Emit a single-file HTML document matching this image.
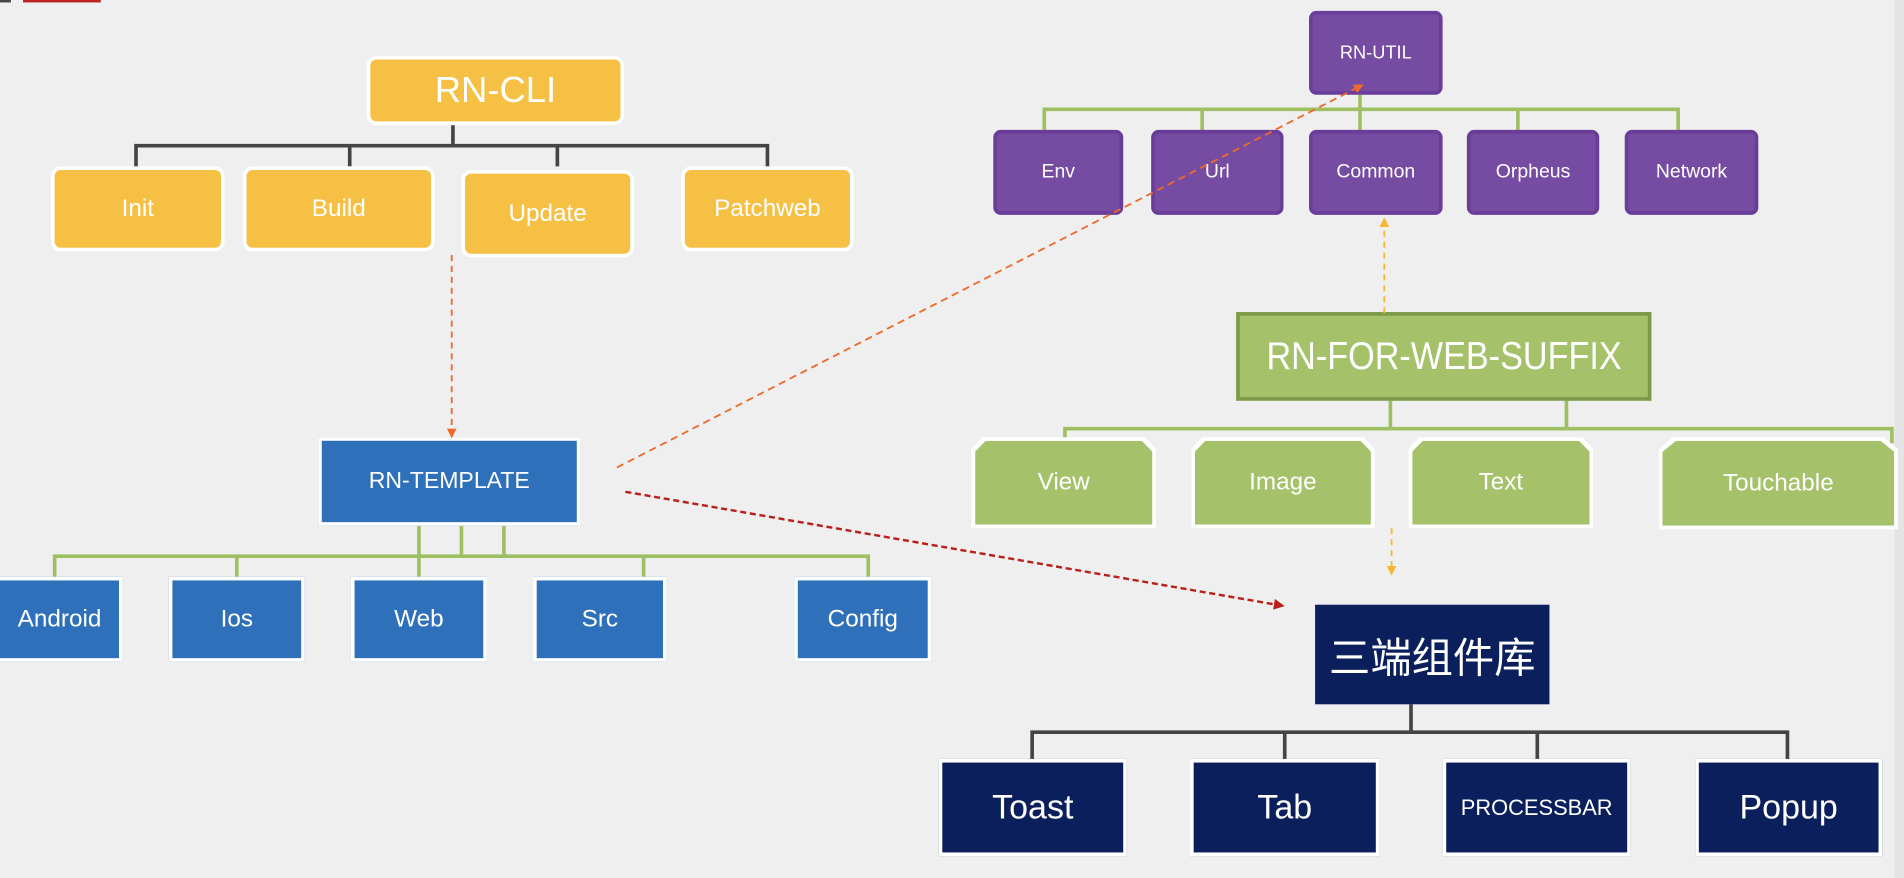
<!DOCTYPE html>
<html><head><meta charset="utf-8"><style>
html,body{margin:0;padding:0;width:1904px;height:878px;overflow:hidden;background:#efefef;}
#w{position:absolute;left:0;top:0;width:1568px;height:723px;transform:scale(1.2143);transform-origin:0 0;font-family:"Liberation Sans","Noto Sans CJK SC",sans-serif;}
.n{position:absolute;display:flex;align-items:center;justify-content:center;color:#fff;box-sizing:border-box;text-align:center;white-space:nowrap;}
.y{background:#f5c044;border:3px solid #fff;border-radius:8px;font-size:20px;}
.b{background:#2e70ba;border:3px solid #fff;font-size:20px;}
.p{background:#764ba2;border:3px solid #6a3d9a;border-radius:6px;font-size:16px;}
.g{background:#a5c16a;font-size:20px;clip-path:polygon(6% 0,94% 0,100% 13%,100% 100%,0 100%,0 13%);}
.gw{position:absolute;background:#fff;clip-path:polygon(6% 0,94% 0,100% 13%,100% 100%,0 100%,0 13%);}
.d{background:#0a1f5c;border:3px solid #fff;font-size:28px;}
</style></head><body>
<div id="w">
<div style="position:absolute;left:0;top:0;width:9px;height:2px;background:#444"></div>
<div style="position:absolute;left:19px;top:0;width:64px;height:2px;background:#b22"></div>
<div style="position:absolute;left:1560px;top:0;width:8px;height:723px;background:#e4e4e4"></div>
<svg width="1568" height="723" style="position:absolute;left:0;top:0">
<g stroke="#444" stroke-width="3" fill="none">
<path d="M373,103V120M112,137V120H632V137M288,120V137M459,120V137"/>
<path d="M1162,580V603M850,625V603H1472V625M1058,603V625M1266,603V625"/>
</g>
<g stroke="#9fc062" stroke-width="3" fill="none">
<path d="M345,433V458M380,433V458M415,433V458M45,475V458H715V475M195,458V475M345,458V475M530,458V475"/>
<path d="M1120,78V90M860,107V90H1382V107M990,90V107M1120,90V107M1250,90V107M1382,90V107"/>
<path d="M1145,330V353M1290,330V353M877,365V353H1558V365"/>
</g>
</svg>

<div class="n y" style="left:302px;top:46px;width:212px;height:57px;font-size:30px">RN-CLI</div>
<div class="n y" style="left:42px;top:137px;width:143px;height:70px">Init</div>
<div class="n y" style="left:200px;top:137px;width:158px;height:70px">Build</div>
<div class="n y" style="left:380px;top:140px;width:142px;height:72px">Update</div>
<div class="n y" style="left:561px;top:137px;width:142px;height:70px">Patchweb</div>

<div class="n b" style="left:262px;top:360px;width:216px;height:73px;font-size:19px">RN-TEMPLATE</div>
<div class="n b" style="left:-3px;top:475px;width:104px;height:70px">Android</div>
<div class="n b" style="left:139px;top:475px;width:112px;height:70px">Ios</div>
<div class="n b" style="left:289px;top:475px;width:112px;height:70px">Web</div>
<div class="n b" style="left:439px;top:475px;width:110px;height:70px">Src</div>
<div class="n b" style="left:654px;top:475px;width:113px;height:70px">Config</div>

<div class="n p" style="left:1078px;top:9px;width:110px;height:69px;font-size:15px">RN-UTIL</div>
<div class="n p" style="left:818px;top:107px;width:107px;height:70px">Env</div>
<div class="n p" style="left:948px;top:107px;width:109px;height:70px">Url</div>
<div class="n p" style="left:1078px;top:107px;width:110px;height:70px">Common</div>
<div class="n p" style="left:1208px;top:107px;width:109px;height:70px">Orpheus</div>
<div class="n p" style="left:1338px;top:107px;width:110px;height:70px">Network</div>

<div class="n" style="left:1018px;top:257px;width:342px;height:73px;background:#a5c16a;border:3px solid #7b9b4a;font-size:32px"><span style="display:inline-block;transform:scaleX(0.88)">RN-FOR-WEB-SUFFIX</span></div>
<div class="gw" style="left:800px;top:360px;width:152px;height:75px"></div>
<div class="n g" style="left:803px;top:363px;width:146px;height:69px">View</div>
<div class="gw" style="left:981px;top:360px;width:151px;height:75px"></div>
<div class="n g" style="left:984px;top:363px;width:145px;height:69px">Image</div>
<div class="gw" style="left:1160px;top:360px;width:152px;height:75px"></div>
<div class="n g" style="left:1163px;top:363px;width:146px;height:69px">Text</div>
<div class="gw" style="left:1366px;top:360px;width:197px;height:76px"></div>
<div class="n g" style="left:1369px;top:363px;width:191px;height:70px">Touchable</div>

<div class="n" style="left:1083px;top:498px;width:193px;height:82px;background:#0a1f5c;font-size:34px">三端组件库</div>
<div class="n d" style="left:773px;top:625px;width:155px;height:80px">Toast</div>
<div class="n d" style="left:980px;top:625px;width:156px;height:80px">Tab</div>
<div class="n d" style="left:1188px;top:625px;width:155px;height:80px;font-size:18px">PROCESSBAR</div>
<div class="n d" style="left:1396px;top:625px;width:154px;height:80px">Popup</div>

<svg width="1568" height="723" style="position:absolute;left:0;top:0">
<defs>
<marker id="ao" markerWidth="8" markerHeight="8" refX="7" refY="4" orient="auto" markerUnits="userSpaceOnUse"><path d="M0,0L8,4L0,8z" fill="#ee6a2a"/></marker>
<marker id="ay" markerWidth="8" markerHeight="8" refX="7" refY="4" orient="auto" markerUnits="userSpaceOnUse"><path d="M0,0L8,4L0,8z" fill="#f5b830"/></marker>
<marker id="ar" markerWidth="9" markerHeight="9" refX="8" refY="4.5" orient="auto" markerUnits="userSpaceOnUse"><path d="M0,0L9,4.5L0,9z" fill="#b8201c"/></marker>
</defs>
<line x1="372" y1="210" x2="372" y2="360" stroke="#ee6a2a" stroke-width="1.5" stroke-dasharray="5,4" marker-end="url(#ao)"/>
<line x1="508" y1="385" x2="1122" y2="70" stroke="#ee6a2a" stroke-width="1.5" stroke-dasharray="6,4" marker-end="url(#ao)"/>
<line x1="515" y1="405" x2="1057" y2="499" stroke="#b8201c" stroke-width="2" stroke-dasharray="5,3" marker-end="url(#ar)"/>
<line x1="1140" y1="258" x2="1140" y2="180" stroke="#f5b830" stroke-width="1.5" stroke-dasharray="5,4" marker-end="url(#ay)"/>
<line x1="1146" y1="435" x2="1146" y2="473" stroke="#f5b830" stroke-width="1.5" stroke-dasharray="5,4" marker-end="url(#ay)"/>
</svg>
</div>
</body></html>
